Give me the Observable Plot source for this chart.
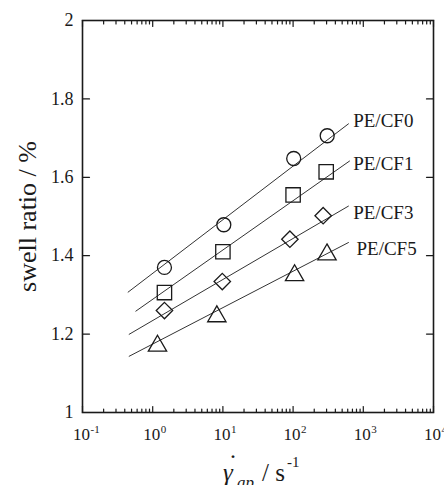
<!DOCTYPE html>
<html>
<head>
<meta charset="utf-8">
<script src="https://cdn.jsdelivr.net/npm/d3@7"></script>
<script src="https://cdn.jsdelivr.net/npm/@observablehq/plot@0.6"></script>
<style>
  html, body { margin: 0; padding: 0; background: #fff; }
  #chart svg { display: block; }
  #chart svg, #chart svg text { font-family: "Liberation Serif", "Times New Roman", serif; }
</style>
</head>
<body>
<div id="chart"></div>
<script>
// ---- data ----
const seriesNames = ["PE/CF0", "PE/CF1", "PE/CF3", "PE/CF5"];
const seriesSymbols = ["circle", "square", "diamond2", "triangle"];

const rateCF0 = [1.47, 10.3, 102, 306];
const swellCF0 = [1.370, 1.479, 1.648, 1.706];
const rateCF1 = [1.47, 10.0, 100, 296];
const swellCF1 = [1.306, 1.410, 1.555, 1.614];
const rateCF3 = [1.47, 9.8, 90, 268];
const swellCF3 = [1.260, 1.334, 1.442, 1.502];
const rateCF5 = [1.17, 8.2, 105, 304];
const swellCF5 = [1.170, 1.245, 1.350, 1.403];

// fitted lines (start / end)
const fitStartRate = [0.442, 0.569, 0.457, 0.457];
const fitStartSwell = [1.3065, 1.258, 1.199, 1.143];
const fitEndRate = [621, 643, 621, 621];
const fitEndSwell = [1.737, 1.642, 1.527, 1.434];

// series labels
const labelRate = [718, 718, 718, 800];
const labelSwell = [1.745, 1.634, 1.508, 1.417];

// axes
const xMajorTicks = [0.1, 1, 10, 100, 1000, 10000];
const xTickExponents = ["-1", "0", "1", "2", "3", "4"];
const yTicks = [1, 1.2, 1.4, 1.6, 1.8, 2];
const yTickLabels = ["1", "1.2", "1.4", "1.6", "1.8", "2"];
const xMinorTicks = xMajorTicks.slice(0, -1).flatMap(t => d3.range(2, 10).map(m => m * t));

// ---- build tables ----
const rates = [rateCF0, rateCF1, rateCF3, rateCF5];
const swells = [swellCF0, swellCF1, swellCF3, swellCF5];
const points = seriesNames.flatMap((s, i) =>
  rates[i].map((r, j) => ({series: s, symbol: seriesSymbols[i], rate: r, swell: swells[i][j]})));
const fits = seriesNames.map((s, i) => ({
  series: s, x1: fitStartRate[i], y1: fitStartSwell[i], x2: fitEndRate[i], y2: fitEndSwell[i]}));
const labels = seriesNames.map((s, i) => ({series: s, rate: labelRate[i], swell: labelSwell[i]}));

const FONT = "Liberation Serif";
const INK = "#1a1a1a";
const tickShape = {draw(context, l) { context.moveTo(0, 0); context.lineTo(0, -l); }};
const yMin = 1, yMax = 2, xMin = 0.1, xMax = 10000;
const symbolR = {circle: 7, square: 8.1, diamond2: 7.4, triangle: 6.8};

const tickMarks = [
  Plot.vector(xMajorTicks, {x: d => d, y: () => yMin, length: 6, rotate: 0, anchor: "start", shape: tickShape, stroke: INK, strokeWidth: 1.2}),
  Plot.vector(xMinorTicks, {x: d => d, y: () => yMin, length: 3.5, rotate: 0, anchor: "start", shape: tickShape, stroke: INK, strokeWidth: 1.2}),
  Plot.vector(xMajorTicks, {x: d => d, y: () => yMax, length: 6, rotate: 180, anchor: "start", shape: tickShape, stroke: INK, strokeWidth: 1.2}),
  Plot.vector(xMinorTicks, {x: d => d, y: () => yMax, length: 3.5, rotate: 180, anchor: "start", shape: tickShape, stroke: INK, strokeWidth: 1.2}),
  Plot.vector(yTicks, {x: () => xMin, y: d => d, length: 7, rotate: 90, anchor: "start", shape: tickShape, stroke: INK, strokeWidth: 1.2}),
  Plot.vector(yTicks, {x: () => xMax, y: d => d, length: 7, rotate: -90, anchor: "start", shape: tickShape, stroke: INK, strokeWidth: 1.2})
];

const T = {fontFamily: FONT, fill: INK};

const chart = Plot.plot({
  width: 444,
  height: 485,
  marginLeft: 82,
  marginRight: 11,
  marginTop: 20,
  marginBottom: 73,
  style: "font-family: 'Liberation Serif', 'Times New Roman', serif; background: #fff; color: #1a1a1a;",
  x: {type: "log", domain: [xMin, xMax], axis: null},
  y: {domain: [yMin, yMax], axis: null},
  symbol: {type: "identity"},
  r: {type: "identity"},
  marks: [
    ...tickMarks,
    // x tick labels
    Plot.text(xMajorTicks, {...T, x: d => d, y: () => yMin, text: () => "10", dx: -1, dy: 22, fontSize: 17, textAnchor: "middle", lineAnchor: "middle"}),
    Plot.text(xMajorTicks, {...T, x: d => d, y: () => yMin, text: (d, i) => xTickExponents[i], dx: 8, dy: 17, fontSize: 11, textAnchor: "start", lineAnchor: "middle"}),
    // y tick labels
    Plot.text(yTicks, {...T, x: () => xMin, y: d => d, text: (d, i) => yTickLabels[i], dx: -9, fontSize: 18, textAnchor: "end", lineAnchor: "middle"}),
    // y axis title
    Plot.text(["swell ratio / %"], {...T, frameAnchor: "left", dx: -55, dy: 0, rotate: -90, fontSize: 26, textAnchor: "middle", lineAnchor: "middle"}),
    // x axis title pieces: γ̇ap / s-1
    Plot.text(["γ"], {...T, frameAnchor: "bottom", dx: -35, dy: 68, fontSize: 25, fontStyle: "italic", textAnchor: "start", lineAnchor: "bottom"}),
    Plot.text(["."], {...T, frameAnchor: "bottom", dx: -28, dy: 45, fontSize: 24, textAnchor: "start", lineAnchor: "bottom"}),
    Plot.text(["ap"], {...T, frameAnchor: "bottom", dx: -21, dy: 75, fontSize: 17, fontStyle: "italic", textAnchor: "start", lineAnchor: "bottom"}),
    Plot.text(["/ s"], {...T, frameAnchor: "bottom", dx: 4, dy: 68, fontSize: 25, textAnchor: "start", lineAnchor: "bottom"}),
    Plot.text(["-1"], {...T, frameAnchor: "bottom", dx: 29, dy: 54, fontSize: 15, textAnchor: "start", lineAnchor: "bottom"}),
    // fitted lines
    Plot.link(fits, {x1: "x1", y1: "y1", x2: "x2", y2: "y2", stroke: "#333", strokeWidth: 1}),
    // data points
    Plot.dot(points, {x: "rate", y: "swell", symbol: "symbol", r: d => symbolR[d.symbol], stroke: INK, strokeWidth: 1.3, fill: "none"}),
    // labels
    Plot.text(labels, {...T, x: "rate", y: "swell", text: "series", fontSize: 19, textAnchor: "start", lineAnchor: "middle"}),
    Plot.frame({stroke: INK, strokeWidth: 1.6})
  ]
});
document.getElementById("chart").appendChild(chart);
</script>
</body>
</html>
